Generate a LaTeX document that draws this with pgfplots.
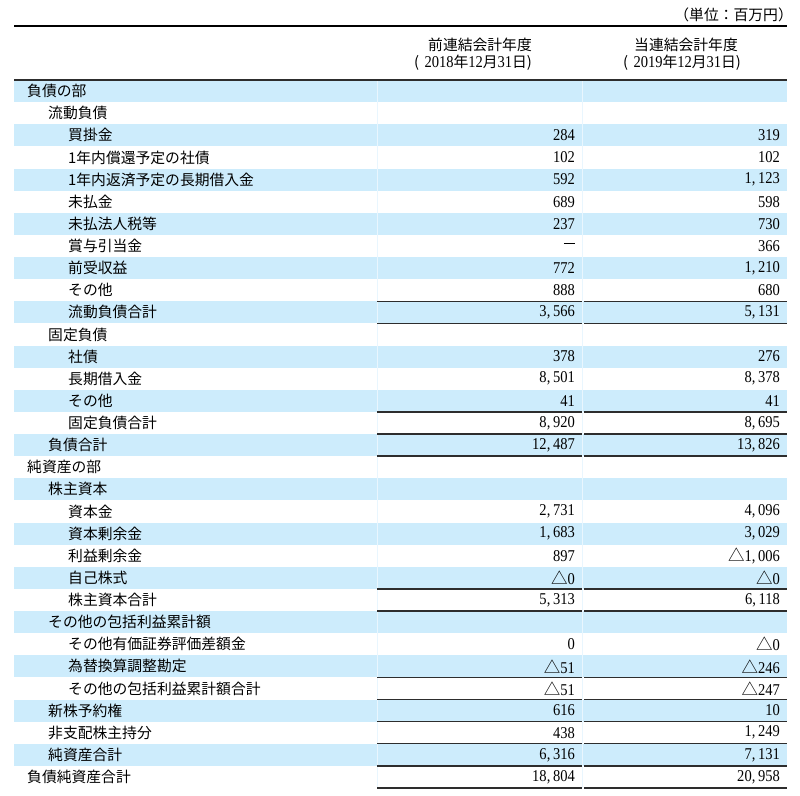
\documentclass[border=0pt]{standalone}
\usepackage{pgfplots}
\pgfplotsset{compat=1.18}
\usepackage{pgfplotstable}
\usepackage{fontspec}
\setmainfont{Liberation Serif}[FakeStretch=0.88]
\newfontfamily\jp{Noto Sans CJK JP}
\definecolor{rowblue}{RGB}{205,236,252}
\definecolor{rulec}{RGB}{45,45,45}
\protected\def\K{,\kern0.16em}
\protected\def\T{{\jp △}}
\protected\def\D{\rule[0.3em]{11pt}{1pt}}
\newcommand\jpf{\jp\fontsize{14.8pt}{17pt}\selectfont}
\newcommand\numf{\fontsize{16.5pt}{18pt}\selectfont}

\pgfplotstableread[col sep=semicolon]{
r;x;t
1;27;負債の部
2;48;流動負債
3;68;買掛金
4;68;1年内償還予定の社債
5;68;1年内返済予定の長期借入金
6;68;未払金
7;68;未払法人税等
8;68;賞与引当金
9;68;前受収益
10;68;その他
11;68;流動負債合計
12;48;固定負債
13;68;社債
14;68;長期借入金
15;68;その他
16;68;固定負債合計
17;48;負債合計
18;27;純資産の部
19;48;株主資本
20;68;資本金
21;68;資本剰余金
22;68;利益剰余金
23;68;自己株式
24;68;株主資本合計
25;48;その他の包括利益累計額
26;68;その他有価証券評価差額金
27;68;為替換算調整勘定
28;68;その他の包括利益累計額合計
29;48;新株予約権
30;48;非支配株主持分
31;48;純資産合計
32;27;負債純資産合計
}\labels

% previous fiscal year (2018/12/31), millions of yen
\pgfplotstableread[col sep=semicolon]{
r;v
3;284
4;102
5;592
6;689
7;237
8;\D
9;772
10;888
11;3\K566
13;378
14;8\K501
15;41
16;8\K920
17;12\K487
20;2\K731
21;1\K683
22;897
23;\T0
24;5\K313
26;0
27;\T51
28;\T51
29;616
30;438
31;6\K316
32;18\K804
}\prevyear

% current fiscal year (2019/12/31), millions of yen
\pgfplotstableread[col sep=semicolon]{
r;v
3;319
4;102
5;1\K123
6;598
7;730
8;366
9;1\K210
10;680
11;5\K131
13;276
14;8\K378
15;41
16;8\K695
17;13\K826
20;4\K096
21;3\K029
22;\T1\K006
23;\T0
24;6\K118
26;\T0
27;\T246
28;\T247
29;10
30;1\K249
31;7\K131
32;20\K958
}\curyear

\begin{document}
\begin{tikzpicture}
\begin{axis}[
  width=800pt, height=795pt, scale only axis,
  xmin=0, xmax=800, ymin=-3.6158, ymax=32.3164, y dir=reverse,
  axis lines=none, clip=false,
  point meta=explicit symbolic,
]
% full page extent
\path (axis cs:0,-3.6158) rectangle (axis cs:800,32.3164);
% striped rows
\fill[rowblue] (axis cs:14,0) rectangle (axis cs:787,1);
\fill[rowblue] (axis cs:14,2) rectangle (axis cs:787,3);
\fill[rowblue] (axis cs:14,4) rectangle (axis cs:787,5);
\fill[rowblue] (axis cs:14,6) rectangle (axis cs:787,7);
\fill[rowblue] (axis cs:14,8) rectangle (axis cs:787,9);
\fill[rowblue] (axis cs:14,10) rectangle (axis cs:787,11);
\fill[rowblue] (axis cs:14,12) rectangle (axis cs:787,13);
\fill[rowblue] (axis cs:14,14) rectangle (axis cs:787,15);
\fill[rowblue] (axis cs:14,16) rectangle (axis cs:787,17);
\fill[rowblue] (axis cs:14,18) rectangle (axis cs:787,19);
\fill[rowblue] (axis cs:14,20) rectangle (axis cs:787,21);
\fill[rowblue] (axis cs:14,22) rectangle (axis cs:787,23);
\fill[rowblue] (axis cs:14,24) rectangle (axis cs:787,25);
\fill[rowblue] (axis cs:14,26) rectangle (axis cs:787,27);
\fill[rowblue] (axis cs:14,28) rectangle (axis cs:787,29);
\fill[rowblue] (axis cs:14,30) rectangle (axis cs:787,31);
\draw[white!55!rowblue, line width=0.7pt] (axis cs:377,0) -- (axis cs:377,32);
\draw[white!55!rowblue, line width=0.7pt] (axis cs:582.5,0) -- (axis cs:582.5,32);
% rules
\draw[black, line width=2pt] (axis cs:14,-2.4407) -- (axis cs:787,-2.4407);
\draw[rulec, line width=1.4pt] (axis cs:14,0) -- (axis cs:787,0);
\pgfplotsinvokeforeach{10,11,15,16,17,23,24,27,28,29,30,31,32}{
  \draw[rulec, line width=1.3pt] (axis cs:377,#1) -- (axis cs:582,#1);
  \draw[rulec, line width=1.3pt] (axis cs:584,#1) -- (axis cs:787,#1);
}
% headers
\node[anchor=east, inner sep=0pt, font=\jpf] at (axis cs:793,-2.94) {（単位：百万円）};
\node[inner sep=0pt, font=\jpf] at (axis cs:480,-1.582) {前連結会計年度};
\node[inner sep=0pt, font=\numf] at (axis cs:473,-0.80) {{\jpf(}\,\,2018{\jpf 年}12{\jpf 月}31{\jpf 日)}};
\node[inner sep=0pt, font=\jpf] at (axis cs:686,-1.582) {当連結会計年度};
\node[inner sep=0pt, font=\numf] at (axis cs:682,-0.80) {{\jpf(}\,\,2019{\jpf 年}12{\jpf 月}31{\jpf 日)}};
% row labels
\addplot[draw=none, nodes near coords,
  nodes near coords style={anchor=west, inner sep=0pt, font=\jpf, text=black}]
  table[x=x, y expr=\thisrow{r}-0.5, meta=t] {\labels};
% values
\addplot[draw=none, nodes near coords,
  nodes near coords style={anchor=east, inner sep=0pt, font=\numf, text=black}]
  table[x expr=575, y expr=\thisrow{r}-0.5, meta=v] {\prevyear};
\addplot[draw=none, nodes near coords,
  nodes near coords style={anchor=east, inner sep=0pt, font=\numf, text=black}]
  table[x expr=780, y expr=\thisrow{r}-0.5, meta=v] {\curyear};
\end{axis}
\end{tikzpicture}
\end{document}
